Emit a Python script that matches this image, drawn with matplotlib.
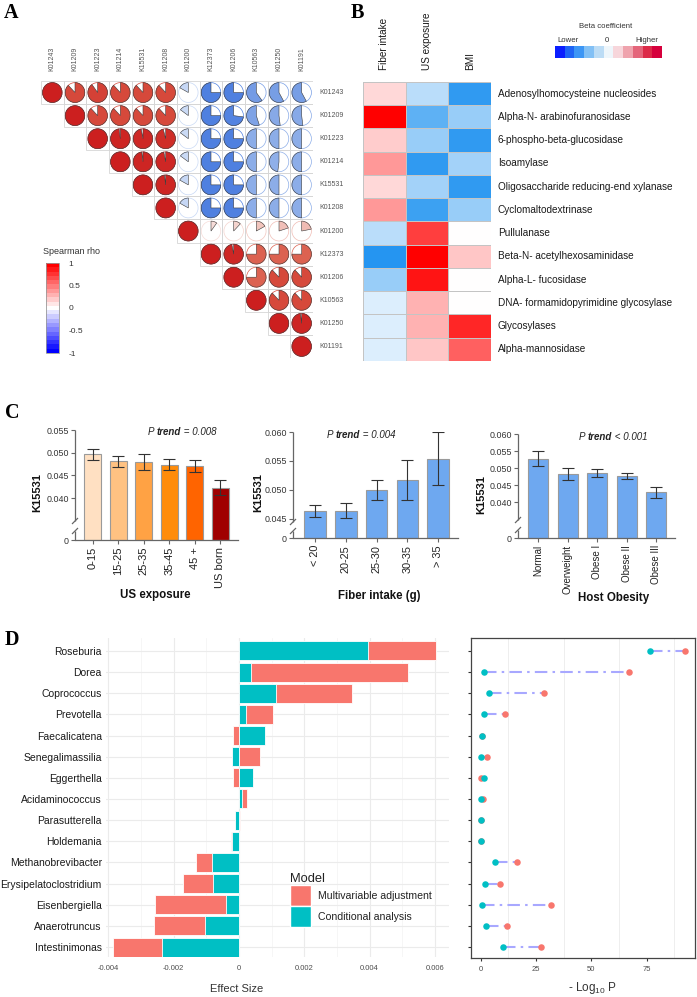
import numpy as np
import matplotlib
matplotlib.use('Agg')
import matplotlib.pyplot as plt
from matplotlib.patches import Wedge, Circle, Rectangle, Patch
from matplotlib.colors import LinearSegmentedColormap, ListedColormap, Normalize
import matplotlib.colorbar as mcolorbar

plt.rcParams['font.family'] = ['Liberation Sans', 'DejaVu Sans']
plt.rcParams['mathtext.fontset'] = 'custom'
plt.rcParams['mathtext.rm'] = 'Liberation Sans'

W, H = 697, 997

# ---------------- DATA ----------------
ko_ids = ['K01243', 'K01209', 'K01223', 'K01214', 'K15531', 'K01208',
          'K01200', 'K12373', 'K01206', 'K10563', 'K01250', 'K01191']
# upper triangle of Spearman rho (row i, columns j > i)
rho_upper = [
    [0.88, 0.90, 0.88, 0.88, 0.88, -0.17, -0.75, -0.75, -0.60, -0.58, -0.58],
    [0.88, 0.88, 0.88, 0.88, -0.15, -0.75, -0.73, -0.55, -0.52, -0.52],
    [0.98, 0.97, 0.96, -0.15, -0.75, -0.75, -0.50, -0.50, -0.50],
    [0.98, 0.97, -0.15, -0.75, -0.75, -0.50, -0.48, -0.50],
    [0.98, -0.17, -0.75, -0.75, -0.50, -0.50, -0.50],
    [-0.17, -0.75, -0.75, -0.50, -0.50, -0.50],
    [0.10, 0.12, 0.17, 0.20, 0.22],
    [0.97, 0.75, 0.75, 0.75],
    [0.75, 0.88, 0.88],
    [0.88, 0.88],
    [0.98],
    [],
]

enzymes = ['Adenosylhomocysteine nucleosides', 'Alpha-N- arabinofuranosidase',
           '6-phospho-beta-glucosidase', 'Isoamylase',
           'Oligosaccharide reducing-end xylanase', 'Cyclomaltodextrinase',
           'Pullulanase', 'Beta-N- acetylhexosaminidase', 'Alpha-L- fucosidase',
           'DNA- formamidopyrimidine glycosylase', 'Glycosylases', 'Alpha-mannosidase']
heat_cols = ['Fiber intake', 'US exposure', 'BMI']
beta_fiber = [0.15, 1.0, 0.2, 0.4, 0.15, 0.4, -0.3, -0.95, -0.45, -0.15, -0.15, -0.15]
beta_us = [-0.3, -0.7, -0.45, -0.9, -0.4, -0.85, 0.75, 1.0, 0.92, 0.3, 0.3, 0.22]
beta_bmi = [-0.9, -0.45, -0.9, -0.4, -0.9, -0.45, 0.0, 0.22, 0.0, 0.0, 0.85, 0.62]
beta_legend_colors = ['#0a1eff', '#1e64f5', '#3c96f5', '#82c0f5', '#bcdcf5', '#eef6fb',
                      '#f7d6db', '#efa3ad', '#e4657a', '#dc2a48', '#d6003c']

us_groups = ['0-15', '15-25', '25-35', '35-45', '45 +', 'US born']
us_mean = [0.0496, 0.0481, 0.0479, 0.0473, 0.0471, 0.0423]
us_err = [0.0012, 0.0012, 0.0017, 0.0012, 0.0013, 0.0016]
us_colors = ['#ffe0c2', '#ffc282', '#ffa244', '#ff8c0a', '#ff6400', '#a00000']

fiber_groups = ['< 20', '20-25', '25-30', '30-35', '> 35']
fiber_mean = [0.0464, 0.0464, 0.0500, 0.0517, 0.0554]
fiber_err = [0.0010, 0.0013, 0.0017, 0.0034, 0.0046]

bmi_groups = ['Normal', 'Overweight', 'Obese I', 'Obese II', 'Obese III']
bmi_mean = [0.0528, 0.0483, 0.0485, 0.0477, 0.0429]
bmi_err = [0.0023, 0.0018, 0.0012, 0.0010, 0.0015]

genera = ['Roseburia', 'Dorea', 'Coprococcus', 'Prevotella', 'Faecalicatena',
          'Senegalimassilia', 'Eggerthella', 'Acidaminococcus', 'Parasutterella',
          'Holdemania', 'Methanobrevibacter', 'Erysipelatoclostridium',
          'Eisenbergiella', 'Anaerotruncus', 'Intestinimonas']
effect_multi = [0.00602, 0.00519, 0.00345, 0.00103, -0.00017, 0.00063, -0.00018,
                0.00024, 0.00003, -0.00024, -0.00130, -0.00170, -0.00256, -0.00261, -0.00387]
effect_cond = [0.00394, 0.00036, 0.00113, 0.00021, 0.00080, -0.00021, 0.00044,
               0.00010, -0.00011, -0.00022, -0.00083, -0.00079, -0.00040, -0.00104, -0.00235]
logp_multi = [92.3, 67.2, 28.7, 10.8, 0.45, 2.7, 0.0, 1.05, 0.1, 0.3, 16.2, 8.9, 31.9, 11.9, 27.1]
logp_cond = [76.5, 1.35, 3.9, 1.35, 0.75, 0.3, 1.35, 0.3, 0.3, 0.3, 6.5, 1.95, 0.75, 2.25, 10.2]

# ---------------- FIGURE ----------------
fig = plt.figure(figsize=(W / 100, H / 100), dpi=100)


def add_ax(l, t, r, b):
    return fig.add_axes([l / W, 1 - b / H, (r - l) / W, (b - t) / H])


def ftext(x, y, s, **kw):
    return fig.text(x / W, 1 - y / H, s, **kw)


letter_kw = dict(fontsize=14.5, fontweight='bold', family='Liberation Serif', va='top', ha='left')
ftext(4, 3, 'A', **letter_kw)
ftext(351, 3, 'B', **letter_kw)
ftext(5, 403, 'C', **letter_kw)
ftext(5, 630, 'D', **letter_kw)

# ---------------- Panel A ----------------
pie_cmap = LinearSegmentedColormap.from_list('pie', [
    (0.0, '#2a5bd7'), (0.125, '#4f80e0'), (0.25, '#8cade8'), (0.42, '#c8d8f5'),
    (0.5, '#ffffff'), (0.58, '#f2c6bf'), (0.875, '#dc6352'), (0.94, '#d64a3c'),
    (1.0, '#cc1f1f')])
axA = add_ax(41, 81, 313, 358)
n = len(ko_ids)
axA.set_xlim(0, n)
axA.set_ylim(0, n)
axA.axis('off')
R = 0.43
for i in range(n):
    for j in range(i, n):
        v = 1.0 if j == i else rho_upper[i][j - i - 1]
        cx, cy = j + 0.5, n - i - 0.5
        axA.add_patch(Rectangle((j, n - i - 1), 1, 1, fill=False, ec='#d6d6d6', lw=0.6))
        col = pie_cmap((v + 1) / 2)
        axA.add_patch(Circle((cx, cy), R, fc='white', ec=col, lw=0.5))
        if v >= 0:
            t1, t2 = 90 - 360 * v, 90
        else:
            t1, t2 = 90, 90 - 360 * v
        axA.add_patch(Wedge((cx, cy), R, t1, t2, fc=col, ec='#3a3a3a', lw=0.4))
for j, k in enumerate(ko_ids):
    axA.text(j + 0.5, n + 0.45, k, rotation=90, ha='center', va='bottom',
             fontsize=5, color='#555555')
for i, k in enumerate(ko_ids):
    axA.text(n + 0.3, n - i - 0.5, k, ha='left', va='center', fontsize=5, color='#555555')

legend_cmap = ListedColormap(LinearSegmentedColormap.from_list(
    'lg', ['#0000ff', '#ffffff', '#ff0000'])(np.linspace(0, 1, 21)))
cax = add_ax(46, 263, 59, 353)
cb = mcolorbar.ColorbarBase(cax, cmap=legend_cmap, norm=Normalize(-1, 1),
                            ticks=[-1, -0.5, 0, 0.5, 1])
cb.ax.set_yticklabels(['-1', '-0.5', '0', '0.5', '1'])
cax.tick_params(labelsize=6, length=0, pad=7, labelcolor='#333333')
cb.outline.set_edgecolor('#999999')
cb.outline.set_linewidth(0.6)
ftext(43, 252, 'Spearman rho', fontsize=6.5, va='center', ha='left', color='#333333')

# ---------------- Panel B ----------------
heat_cmap = LinearSegmentedColormap.from_list('heat', ['#1a90f0', '#ffffff', '#ff0000'])
axB = add_ax(363, 82, 491, 361)
mat = np.array([beta_fiber, beta_us, beta_bmi]).T
axB.pcolormesh(np.arange(mat.shape[1] + 1), np.arange(mat.shape[0] + 1), mat,
               cmap=heat_cmap, vmin=-1, vmax=1, edgecolors='#c4c4c4', linewidth=0.5)
axB.set_xlim(0, 3)
axB.set_ylim(len(enzymes), 0)
axB.axis('off')
axB.add_patch(Rectangle((0, 0), 3, len(enzymes), fill=False, ec='#c4c4c4', lw=0.6))
for i, e in enumerate(enzymes):
    axB.text(3.16, i + 0.5, e, ha='left', va='center', fontsize=7.2, color='#1a1a1a')
for j, c in enumerate(heat_cols):
    axB.text(j + 0.5, -0.5, c, rotation=90, ha='center', va='bottom', fontsize=7.2,
             color='#1a1a1a')

lax = add_ax(555, 46, 662, 58)
lax.imshow(np.arange(len(beta_legend_colors))[None, :],
           cmap=ListedColormap(beta_legend_colors), aspect='auto')
lax.axis('off')
ftext(606, 27, 'Beta coefficient', fontsize=5.6, ha='center', va='center', color='#333333')
ftext(568, 40, 'Lower', fontsize=5.6, ha='center', va='center', color='#333333')
ftext(607, 41, '0', fontsize=5.6, ha='center', va='center', color='#333333')
ftext(647, 40, 'Higher', fontsize=5.6, ha='center', va='center', color='#333333')


# ---------------- Panel C ----------------
def make_fns(b, span):
    k = span / b

    def fwd(y):
        y = np.asarray(y, dtype=float)
        return np.where(y >= b, y, b - (b - y) * k)

    def inv(x):
        x = np.asarray(x, dtype=float)
        return np.where(x >= b, x, b - (b - x) / k)
    return fwd, inv


def bar_panel(px, cats, means, errs, colors, b, span, yticks, ytop, xlim, width,
              brk, ptxt, ppos, xlabel, xlpos, ylpos, xfs):
    l, t, r, bt = px
    ax = add_ax(l, t, r, bt)
    fwd, inv = make_fns(b, span)
    ax.set_yscale('function', functions=(fwd, inv))
    x = np.arange(len(cats))
    ax.bar(x, means, width, color=colors, edgecolor='#9a9a9a', lw=0.8,
           yerr=errs, capsize=4,
           error_kw=dict(ecolor='#333333', elinewidth=0.8, capthick=0.8))
    ax.set_ylim(0, ytop)
    ax.set_xlim(*xlim)
    ax.set_yticks(yticks)
    ax.set_yticklabels(['0' if v == 0 else '%.3f' % v for v in yticks])
    ax.set_xticks(x)
    ax.set_xticklabels(cats, rotation=90, fontsize=xfs, color='#222222')
    ax.tick_params(axis='y', labelsize=6.4, length=3, color='#666666',
                   labelcolor='#333333', pad=1.5)
    ax.tick_params(axis='x', length=3, color='#666666', pad=2)
    for s in ['top', 'right', 'left']:
        ax.spines[s].set_visible(False)
    ax.spines['bottom'].set_color('#666666')
    ax.spines['bottom'].set_linewidth(0.9)
    # broken left axis
    hpx = bt - t
    f_up = (bt - brk[0]) / hpx
    f_lo = (bt - brk[1]) / hpx
    dx = 3.0 / (r - l)
    dy = 3.0 / hpx
    kw = dict(transform=ax.transAxes, color='#666666', lw=0.9, clip_on=False,
              solid_capstyle='butt')
    ax.plot([0, 0], [f_up, 1], **kw)
    ax.plot([0, 0], [0, f_lo], **kw)
    ax.plot([-dx, dx], [f_up - dy, f_up + dy], **kw)
    ax.plot([-dx, dx], [f_lo - dy, f_lo + dy], **kw)
    # P trend text
    t1 = ftext(ppos[0], ppos[1], 'P ', fontsize=7, style='italic', va='center',
               ha='left', color='#222222')
    t2 = ax.annotate('trend', xy=(1, 0), xycoords=t1, va='bottom', ha='left',
                     fontsize=7, style='italic', fontweight='bold', color='#222222')
    ax.annotate(ptxt, xy=(1, 0), xycoords=t2, va='bottom', ha='left',
                fontsize=7, style='italic', color='#222222')
    ftext(xlpos[0], xlpos[1], xlabel, fontsize=8.3, fontweight='bold', ha='center',
          va='center', color='#111111')
    ftext(ylpos[0], ylpos[1], 'K15531', fontsize=8, fontweight='bold', ha='center',
          va='center', rotation=90, color='#111111')
    return ax


bar_panel((75, 430, 238, 540), us_groups, us_mean, us_err, us_colors,
          0.035, 0.00426, [0, 0.040, 0.045, 0.050, 0.055], 0.055,
          (-0.7, 5.69), 0.67, (521, 531), ' = 0.008', (148, 432),
          'US exposure', (155, 595), (37, 493), 8)
bar_panel((293, 432, 458, 538), fiber_groups, fiber_mean, fiber_err, ['#6ea8f0'] * 5,
          0.0445, 0.00278, [0, 0.045, 0.050, 0.055, 0.060], 0.060,
          (-0.72, 4.65), 0.7, (522, 531), ' = 0.004', (327, 435),
          'Fiber intake (g)', (379, 596), (258, 493), 7.8)
bar_panel((518, 434, 675, 538), bmi_groups, bmi_mean, bmi_err, ['#6ea8f0'] * 5,
          0.035, 0.00545, [0, 0.040, 0.045, 0.050, 0.055, 0.060], 0.060,
          (-0.68, 4.64), 0.68, (520, 530), ' < 0.001', (579, 437),
          'Host Obesity', (614, 598), (481, 495), 7.0)

# ---------------- Panel D (left) ----------------
SALMON, TEAL = '#f8766d', '#00bfc4'
axD = add_ax(106, 638, 449, 957)
yy = np.arange(len(genera))
axD.barh(yy, effect_multi, height=0.9, color=SALMON, edgecolor='white', lw=0.6, zorder=2)
axD.barh(yy, effect_cond, height=0.9, color=TEAL, edgecolor='white', lw=0.6, zorder=3)
axD.set_xlim(-0.00407, 0.00643)
axD.set_ylim(len(genera) - 0.53, -0.61)
xt = [-0.004, -0.002, 0, 0.002, 0.004, 0.006]
axD.set_xticks(xt)
axD.set_xticklabels(['-0.004', '-0.002', '0', '0.002', '0.004', '0.006'])
axD.set_xticks([-0.003, -0.001, 0.001, 0.003, 0.005], minor=True)
axD.set_yticks(yy)
axD.set_yticklabels(genera)
axD.grid(which='major', color='#ebebeb', lw=0.8, zorder=0)
axD.grid(which='minor', axis='x', color='#f3f3f3', lw=0.5, zorder=0)
axD.set_axisbelow(True)
for s in axD.spines.values():
    s.set_visible(False)
axD.tick_params(which='both', length=0)
axD.tick_params(axis='y', labelsize=7.5, labelcolor='#1a1a1a', pad=3)
axD.tick_params(axis='x', labelsize=5.5, labelcolor='#4d4d4d', pad=5.5)
ftext(237, 989, 'Effect Size', fontsize=8, ha='center', va='center', color='#333333')
leg = axD.legend(handles=[Patch(fc=SALMON, ec='white'), Patch(fc=TEAL, ec='white')],
                 labels=['Multivariable adjustment', 'Conditional analysis'],
                 title='Model', loc='upper left', bbox_to_anchor=(290 / W, 1 - 873 / H),
                 bbox_transform=fig.transFigure, frameon=False, fontsize=7.6,
                 title_fontsize=9.3, handlelength=2.0, handleheight=2.7,
                 labelspacing=0.0, handletextpad=0.7, borderpad=0, borderaxespad=0,
                 alignment='left')
for txt in leg.get_texts():
    txt.set_color('#222222')
leg.get_title().set_color('#222222')

# ---------------- Panel D (right) ----------------
axR = add_ax(471, 638, 695, 958)
for i in range(len(genera)):
    axR.plot([logp_cond[i], logp_multi[i]], [yy[i], yy[i]], ls=(0, (6, 2.5, 1.2, 2.5)),
             color='#a8a8ff', lw=1.5, zorder=2)
axR.scatter(logp_multi, yy, s=22, color=SALMON, zorder=3, linewidths=0)
axR.scatter(logp_cond, yy, s=22, color=TEAL, zorder=4, linewidths=0)
axR.set_xlim(-4.39, 96.9)
axR.set_ylim(len(genera) - 0.48, -0.61)
axR.set_xticks([0, 25, 50, 75])
axR.set_xticks([12.5, 37.5, 62.5, 87.5], minor=True)
axR.grid(which='minor', axis='x', color='#ebebeb', lw=0.6, zorder=0)
axR.set_axisbelow(True)
axR.set_yticks(yy)
axR.set_yticklabels([])
axR.tick_params(axis='y', length=2.5, color='#333333')
axR.tick_params(axis='x', which='major', length=2.5, color='#333333', labelsize=5.5,
                labelcolor='#4d4d4d', pad=3)
axR.tick_params(axis='x', which='minor', length=0)
for s in axR.spines.values():
    s.set_color('#444444')
    s.set_linewidth(0.9)
ftext(592, 988, '- Log$_{10}$ P', fontsize=8.5, ha='center', va='center', color='#333333')

fig.savefig('out.png', dpi=100)
